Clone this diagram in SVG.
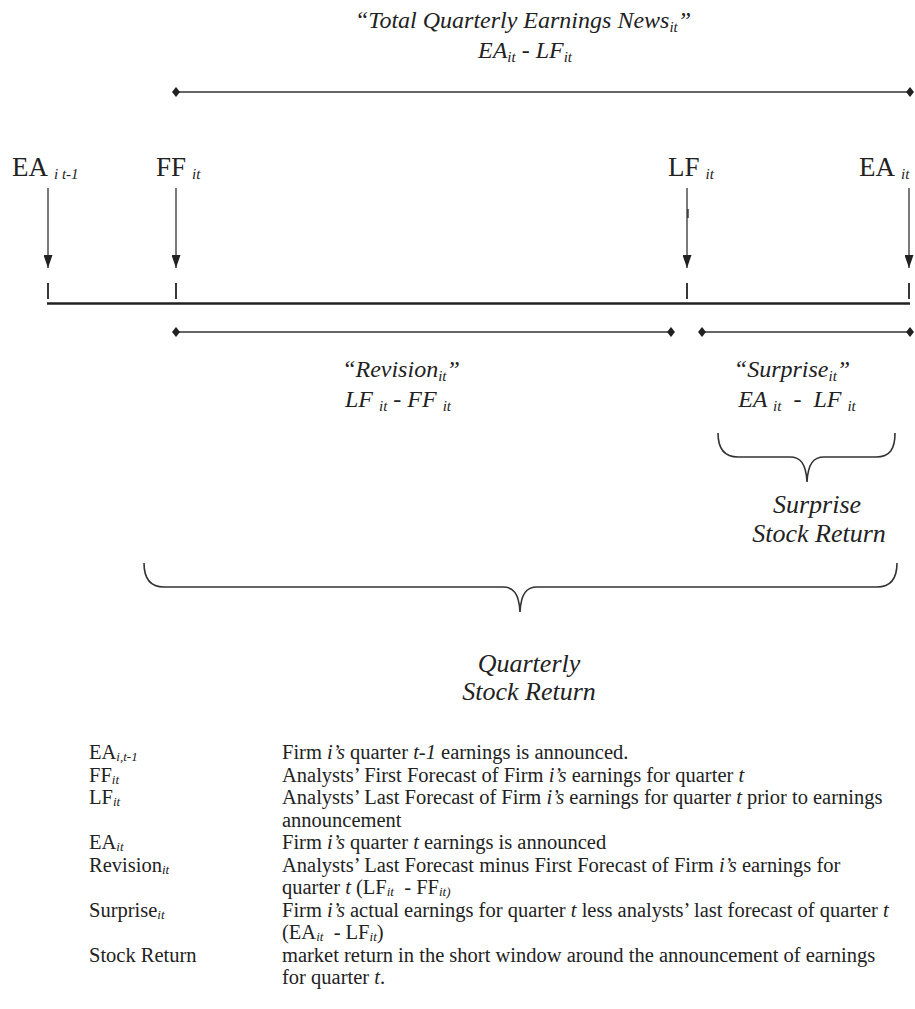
<svg xmlns="http://www.w3.org/2000/svg" width="915" height="1009" viewBox="0 0 915 1009">
<style>
text{font-family:"Liberation Serif","Times New Roman",serif;fill:#222}
.big{font-size:27px}
.it{font-style:italic}
.lab{font-size:24px;font-style:italic}
.lab2{font-size:26px;font-style:italic}
.leg{font-size:20.5px}
.s{font-size:15px;font-style:italic}
.ls{font-size:13px;font-style:italic}
.span{stroke:#333;stroke-width:1.6;fill:none;marker-start:url(#dia);marker-end:url(#dia)}
.arr{stroke:#333;stroke-width:1.3;fill:none;marker-end:url(#ah)}
.tick{stroke:#222;stroke-width:1.8}
.brace{stroke:#333;stroke-width:1.6;fill:none}
</style>
<defs>
<marker id="dia" markerWidth="8" markerHeight="10" refX="4" refY="5" orient="auto" markerUnits="userSpaceOnUse"><path d="M0,5 L4,0 L8,5 L4,10 Z" fill="#222"/></marker>
<marker id="ah" markerWidth="13" markerHeight="9" refX="13" refY="4.5" orient="auto" markerUnits="userSpaceOnUse"><path d="M0,0 L13,4.5 L0,9 Z" fill="#222"/></marker>
</defs>
<rect width="915" height="1009" fill="#fff"/>

<g id="title">
<text class="lab" x="523" y="28" text-anchor="middle">“Total Quarterly Earnings News<tspan class="s" dy="4">it</tspan><tspan dy="-4">”</tspan></text>
<text class="lab" x="525" y="58" text-anchor="middle">EA<tspan class="s" dy="4">it</tspan><tspan dy="-4"> - LF</tspan><tspan class="s" dy="4">it</tspan></text>
</g>

<g id="node-EA-prev"><text class="big" x="12" y="176">EA<tspan class="s" dx="6" dy="3">i t-1</tspan></text></g>
<g id="node-FF"><text class="big" x="156" y="176">FF<tspan class="s" dx="6" dy="3">it</tspan></text></g>
<g id="node-LF"><text class="big" x="668" y="176">LF<tspan class="s" dx="6" dy="3">it</tspan></text></g>
<g id="node-EA"><text class="big" x="859" y="176">EA<tspan class="s" dx="6" dy="3">it</tspan></text></g>

<g id="connectors">
<line class="span" x1="176" y1="92" x2="910" y2="92"/>
<line class="arr" x1="48" y1="188" x2="48" y2="268"/>
<line class="arr" x1="176" y1="188" x2="176" y2="268"/>
<line class="arr" x1="687" y1="188" x2="687" y2="268"/>
<line x1="688" y1="209" x2="688" y2="218" stroke="#222" stroke-width="1.3"/>
<line class="arr" x1="909" y1="188" x2="909" y2="268"/>
<line class="tick" x1="48" y1="283" x2="48" y2="299"/>
<line class="tick" x1="176" y1="283" x2="176" y2="299"/>
<line class="tick" x1="687" y1="283" x2="687" y2="299"/>
<line class="tick" x1="909" y1="283" x2="909" y2="299"/>
<line x1="47" y1="303.5" x2="910" y2="303.5" stroke="#222" stroke-width="2.6"/>
<line class="span" x1="176" y1="332" x2="671" y2="332"/>
<line class="span" x1="702" y1="332" x2="910" y2="332"/>
<path class="brace" d="M718,433 C718,449 724,457 738,457 L790,457 C800,457 806,463 807,482 C808,463 814,457 824,457 L876,457 C890,457 895,449 895,433"/>
<path class="brace" d="M144,563 C144,579 150,587 164,587 L503,587 C513,587 519,593 520,612 C521,593 527,587 537,587 L877,587 C891,587 897,579 897,563"/>
</g>

<g id="revision">
<text class="lab" x="401" y="377" text-anchor="middle">“Revision<tspan class="s" dy="4">it</tspan><tspan dy="-4">”</tspan></text>
<text class="lab" x="398" y="407" text-anchor="middle">LF <tspan class="s" dy="4">it</tspan><tspan dy="-4"> - FF </tspan><tspan class="s" dy="4">it</tspan></text>
</g>
<g id="surprise">
<text class="lab" x="792" y="377" text-anchor="middle">“Surprise<tspan class="s" dy="4">it</tspan><tspan dy="-4">”</tspan></text>
<text class="lab" x="797" y="407" text-anchor="middle" xml:space="preserve">EA <tspan class="s" dy="4">it</tspan><tspan dy="-4">  -  LF </tspan><tspan class="s" dy="4">it</tspan></text>
</g>
<g id="surprise-return">
<text class="lab2" x="817" y="513" text-anchor="middle">Surprise</text>
<text class="lab2" x="819" y="542" text-anchor="middle">Stock Return</text>
</g>
<g id="quarterly-return">
<text class="lab2" x="529" y="672" text-anchor="middle">Quarterly</text>
<text class="lab2" x="529" y="700" text-anchor="middle">Stock Return</text>
</g>

<g id="legend">
<text class="leg" x="89" y="759">EA<tspan class="ls" dy="2">i,t-1</tspan></text>
<text class="leg" x="282" y="759">Firm <tspan class="it">i’s</tspan> quarter <tspan class="it">t-1</tspan> earnings is announced.</text>
<text class="leg" x="89" y="781.5">FF<tspan class="ls" dy="2">it</tspan></text>
<text class="leg" x="282" y="781.5">Analysts’ First Forecast of Firm <tspan class="it">i’s</tspan> earnings for quarter <tspan class="it">t</tspan></text>
<text class="leg" x="89" y="804">LF<tspan class="ls" dy="2">it</tspan></text>
<text class="leg" x="282" y="804">Analysts’ Last Forecast of Firm <tspan class="it">i’s</tspan> earnings for quarter <tspan class="it">t</tspan> prior to earnings</text>
<text class="leg" x="282" y="826.5">announcement</text>
<text class="leg" x="89" y="849">EA<tspan class="ls" dy="2">it</tspan></text>
<text class="leg" x="282" y="849">Firm <tspan class="it">i’s</tspan> quarter <tspan class="it">t</tspan> earnings is announced</text>
<text class="leg" x="89" y="871.5">Revision<tspan class="ls" dy="2">it</tspan></text>
<text class="leg" x="282" y="871.5">Analysts’ Last Forecast minus First Forecast of Firm <tspan class="it">i’s</tspan> earnings for</text>
<text class="leg" x="282" y="894" xml:space="preserve">quarter <tspan class="it">t</tspan> (LF<tspan class="ls" dy="2">it</tspan><tspan dy="-2">  - FF</tspan><tspan class="ls" dy="2">it)</tspan></text>
<text class="leg" x="89" y="916.5">Surprise<tspan class="ls" dy="2">it</tspan></text>
<text class="leg" x="282" y="916.5">Firm <tspan class="it">i’s</tspan> actual earnings for quarter <tspan class="it">t</tspan> less analysts’ last forecast of quarter <tspan class="it">t</tspan></text>
<text class="leg" x="282" y="939" xml:space="preserve">(EA<tspan class="ls" dy="2">it</tspan><tspan dy="-2">  - LF</tspan><tspan class="ls" dy="2">it</tspan><tspan dy="-2">)</tspan></text>
<text class="leg" x="89" y="961.5">Stock Return</text>
<text class="leg" x="282" y="961.5">market return in the short window around the announcement of earnings</text>
<text class="leg" x="282" y="984">for quarter <tspan class="it">t</tspan>.</text>
</g>
</svg>
